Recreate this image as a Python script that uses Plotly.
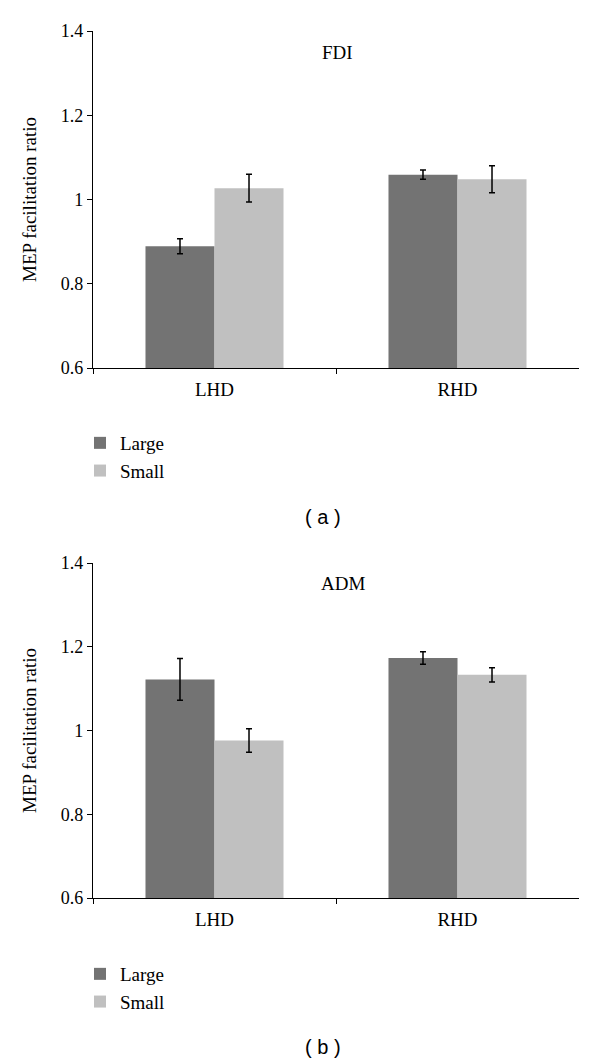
import plotly.graph_objects as go

categories = ["LHD", "RHD"]
groups = ["Large", "Small"]

fdi_large = [0.889, 1.059]
fdi_large_err = [0.018, 0.011]
fdi_small = [1.027, 1.048]
fdi_small_err = [0.033, 0.032]

adm_large = [1.122, 1.173]
adm_large_err = [0.050, 0.015]
adm_small = [0.976, 1.133]
adm_small_err = [0.028, 0.017]

panel_titles = ["FDI", "ADM"]
panel_labels = ["( a )", "( b )"]
colors = {"Large": "#737373", "Small": "#c0c0c0"}

serif = "Liberation Serif"
sans = "Liberation Sans"

fig = go.Figure()

panels = [
    (fdi_large, fdi_large_err, fdi_small, fdi_small_err, "x", "y", "legend"),
    (adm_large, adm_large_err, adm_small, adm_small_err, "x2", "y2", "legend2"),
]

for large, large_err, small, small_err, xa, ya, lg in panels:
    for name, vals, errs in [("Large", large, large_err), ("Small", small, small_err)]:
        fig.add_trace(go.Bar(
            x=categories, y=vals, name=name, xaxis=xa, yaxis=ya, legend=lg,
            marker=dict(color=colors[name], line=dict(width=0)),
            error_y=dict(type="data", array=errs, visible=True,
                         color="black", thickness=1.5, width=3),
        ))

axis_common_y = dict(
    range=[0.6, 1.4], tickvals=[0.6, 0.8, 1.0, 1.2, 1.4],
    ticktext=["0.6", "0.8", "1", "1.2", "1.4"],
    showline=True, linecolor="black", linewidth=1.2,
    ticks="outside", ticklen=5, tickcolor="black", tickwidth=1.2,
    showgrid=False, zeroline=False, automargin=False,
    tickfont=dict(family=serif, size=18, color="black"),
    title=dict(text="MEP facilitation ratio", standoff=19,
               font=dict(family=serif, size=19, color="black")),
)
axis_common_x = dict(
    type="category", tickson="boundaries",
    showline=True, linecolor="black", linewidth=1.2,
    ticks="outside", ticklen=5, tickcolor="black", tickwidth=1.2,
    ticklabelstandoff=4,
    showgrid=False, zeroline=False, automargin=False,
    tickfont=dict(family=serif, size=19, color="black"),
)

legend_common = dict(xanchor="left", yanchor="top",
                     font=dict(family=serif, size=19, color="black"),
                     itemwidth=30, tracegroupgap=0, bgcolor="rgba(0,0,0,0)")

fig.update_layout(
    width=600, height=1062,
    margin=dict(l=0, r=0, t=0, b=0, autoexpand=False),
    paper_bgcolor="white", plot_bgcolor="white",
    barmode="group", bargap=0.432, bargroupgap=0,
    showlegend=True,
    xaxis=dict(domain=[93 / 600, 579 / 600], anchor="y", **axis_common_x),
    yaxis=dict(domain=[1 - 368 / 1062, 1 - 31 / 1062], anchor="x", **axis_common_y),
    xaxis2=dict(domain=[93 / 600, 579 / 600], anchor="y2", **axis_common_x),
    yaxis2=dict(domain=[1 - 898 / 1062, 1 - 563 / 1062], anchor="x2", **axis_common_y),
    legend=dict(x=80 / 600, y=1 - 424 / 1062, **legend_common),
    legend2=dict(x=80 / 600, y=1 - 955 / 1062, **legend_common),
)

annotations = []
for title, tx, ty in zip(panel_titles, [337, 343], [53, 583]):
    annotations.append(dict(text=title, x=tx / 600, y=1 - ty / 1062,
                            xref="paper", yref="paper", showarrow=False,
                            xanchor="center", yanchor="middle",
                            font=dict(family=serif, size=19, color="black")))
for lab, ly in zip(panel_labels, [517, 1047]):
    annotations.append(dict(text=lab, x=323 / 600, y=1 - ly / 1062,
                            xref="paper", yref="paper", showarrow=False,
                            xanchor="center", yanchor="middle",
                            font=dict(family=sans, size=20, color="black")))
fig.update_layout(annotations=annotations)

fig.write_html("out.html", config={"displayModeBar": False},
               post_script="document.body.style.margin='0';document.body.style.padding='0';")
